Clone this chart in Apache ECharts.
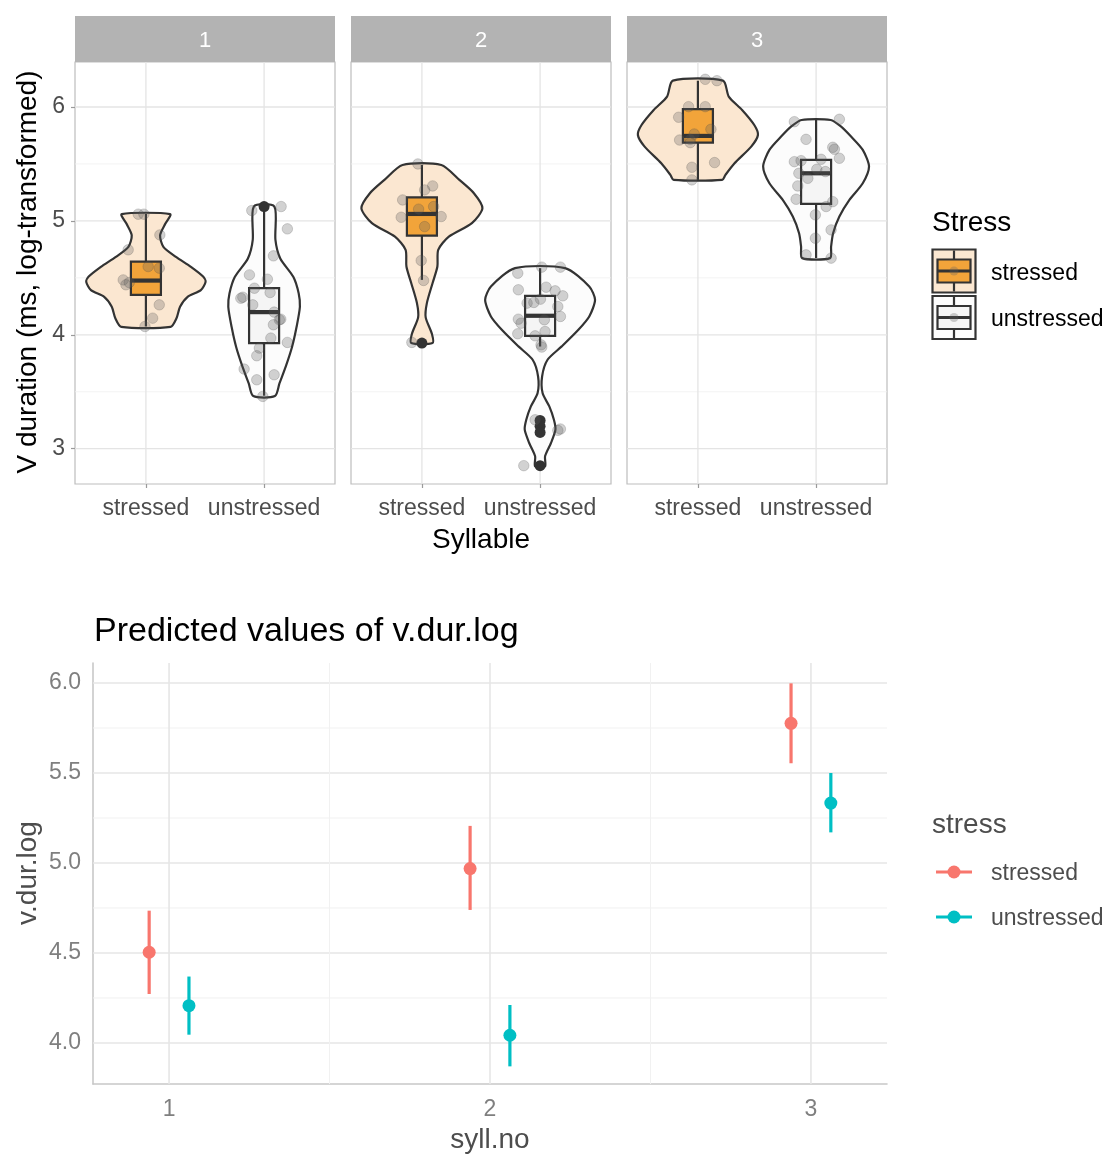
<!DOCTYPE html>
<html>
<head>
<meta charset="utf-8">
<title>V duration by syllable and stress</title>
<script src="https://cdn.jsdelivr.net/npm/echarts@6/dist/echarts.min.js"></script>
<style>
  html, body { margin: 0; padding: 0; background: #fff; }
  #chart { width: 1106px; height: 1154px; }
</style>
</head>
<body>
<div id="chart"></div>
<script>
const FONT = '"Liberation Sans", Arial, sans-serif'

// ---- top: vowel duration per syllable (facets) and stress ----
const facetLabels = ['1', '2', '3']
const stressLevels = ['stressed', 'unstressed']
const yBreaksTop = [3, 4, 5, 6]
const yMinorTop = [3.5, 4.5, 5.5]

// violin outlines, top to bottom: [value, half width in x units]
const violinStressed = [
  [[5.059, 0.205], [4.977, 0.165], [4.874, 0.12], [4.772, 0.148], [4.684, 0.254], [4.596, 0.381], [4.509, 0.486], [4.465, 0.505], [4.392, 0.465], [4.333, 0.353], [4.246, 0.289], [4.143, 0.258], [4.07, 0.209]],
  [[5.491, 0.164], [5.36, 0.317], [5.243, 0.44], [5.111, 0.512], [4.98, 0.423], [4.862, 0.228], [4.746, 0.138], [4.6, 0.131], [4.453, 0.09], [4.278, 0.042], [4.153, 0.032], [4.007, 0.085], [3.927, 0.09]],
  [[6.231, 0.212], [6.091, 0.261], [5.974, 0.374], [5.842, 0.477], [5.754, 0.508], [5.652, 0.451], [5.506, 0.31], [5.404, 0.233], [5.36, 0.205]]
]
const violinUnstressed = [
  [[5.126, 0.087], [4.833, 0.096], [4.67, 0.137], [4.509, 0.247], [4.363, 0.293], [4.246, 0.303], [4.07, 0.275], [3.895, 0.237], [3.72, 0.183], [3.573, 0.13], [3.462, 0.092]],
  [[4.585, 0.212], [4.424, 0.416], [4.307, 0.465], [4.161, 0.416], [4.044, 0.324], [3.898, 0.183], [3.781, 0.063], [3.634, 0.017], [3.488, 0.021], [3.371, 0.078], [3.254, 0.117], [3.167, 0.13], [3.05, 0.092], [2.933, 0.042], [2.845, 0.042]],
  [[5.886, 0.123], [5.827, 0.212], [5.74, 0.296], [5.623, 0.395], [5.477, 0.448], [5.33, 0.395], [5.184, 0.282], [5.038, 0.197], [4.892, 0.144], [4.775, 0.127], [4.673, 0.118]]
]

// boxplots: [lower whisker, Q1, median, Q3, upper whisker]
const boxStressed = [
  [4.073, 4.351, 4.476, 4.643, 5.061],
  [4.482, 4.871, 5.061, 5.206, 5.491],
  [5.36, 5.687, 5.746, 5.982, 6.231]
]
const boxUnstressed = [
  [3.465, 3.927, 4.199, 4.409, 5.09],
  [3.897, 3.991, 4.167, 4.342, 4.585],
  [4.673, 5.149, 5.418, 5.535, 5.886]
]
const outliersStressed = [[], [3.927], []]
const outliersUnstressed = [[5.126], [3.248, 3.196, 3.143, 2.851], []]

// raw observations (jittered): values and horizontal jitter in x units
const jitterValStressed = [
  [5.059, 5.059, 4.746, 4.599, 4.585, 4.482, 4.439, 4.459, 4.263, 4.146, 4.073, 4.877],
  [5.5, 5.307, 5.272, 5.184, 5.103, 5.126, 5.032, 5.038, 4.95, 4.652, 4.477, 3.933],
  [6.243, 6.231, 6.003, 6.003, 5.91, 5.804, 5.763, 5.716, 5.71, 5.687, 5.512, 5.471, 5.36]
]
const jitterOffStressed = [
  [-0.065, -0.017, -0.15, 0.019, 0.113, -0.192, -0.169, -0.141, 0.113, 0.057, -0.008, 0.118],
  [-0.034, 0.091, 0.023, -0.163, -0.028, 0.099, -0.175, 0.163, 0.023, -0.006, 0.014, -0.085],
  [0.062, 0.161, -0.079, 0.062, -0.163, 0.11, -0.031, -0.065, -0.155, -0.065, 0.141, -0.051, -0.051]
]
const jitterValUnstressed = [
  [5.091, 5.126, 4.93, 4.693, 4.526, 4.488, 4.409, 4.371, 4.33, 4.321, 4.263, 4.199, 4.137, 4.088, 4.132, 3.971, 3.933, 3.883, 3.816, 3.699, 3.649, 3.605, 3.459],
  [4.541, 4.594, 4.594, 4.395, 4.418, 4.386, 4.342, 4.313, 4.278, 4.284, 4.248, 4.161, 4.137, 4.102, 4.132, 4.009, 4.029, 3.991, 3.912, 3.892, 3.254, 3.173, 3.161, 2.851],
  [5.871, 5.892, 5.716, 5.646, 5.629, 5.55, 5.52, 5.529, 5.541, 5.418, 5.453, 5.433, 5.374, 5.307, 5.19, 5.169, 5.126, 5.053, 4.921, 4.848, 4.702, 4.673]
]
const jitterOffUnstressed = [
  [-0.104, 0.144, 0.197, 0.079, -0.124, 0.028, -0.082, 0.051, -0.18, -0.197, -0.096, 0.085, 0.141, 0.079, 0.129, 0.057, 0.197, -0.04, -0.062, -0.169, 0.085, -0.062, -0.011],
  [-0.189, 0.014, 0.172, -0.184, 0.051, 0.127, 0.192, 0.003, -0.11, -0.053, 0.15, 0.172, -0.184, -0.161, 0.036, -0.189, 0.042, -0.042, 0.008, 0.014, -0.042, 0.172, 0.15, -0.138],
  [-0.184, 0.197, -0.085, 0.141, 0.155, 0.197, -0.184, -0.127, 0.042, -0.146, 0.006, 0.079, -0.07, -0.155, -0.169, 0.141, 0.085, -0.006, 0.127, -0.006, -0.085, 0.127]
]

// ---- bottom: predicted values of v.dur.log ----
const syllNo = [1, 2, 3]
const fitStressed = [4.504, 4.969, 5.776]
const lowStressed = [4.272, 4.739, 5.554]
const highStressed = [4.735, 5.206, 5.998]
const fitUnstressed = [4.207, 4.043, 5.333]
const lowUnstressed = [4.046, 3.87, 5.17]
const highUnstressed = [4.369, 4.211, 5.5]
const yBreaksBottom = [4.0, 4.5, 5.0, 5.5, 6.0]
const yMinorBottom = [4.25, 4.75, 5.25, 5.75]
const xMinorBottom = [1.5, 2.5]

// styles
const VIOLIN_FILL = ['#FBE7D1', '#FCFCFC']
const BOX_FILL = ['#F2A43A', '#F5F5F5']
const INK = '#333333'
const LW = 2.2
const PRED_COLORS = ['#F8766D', '#00BFC4']
const BOX_HALF = 0.127
const DODGE = 0.062
const TOP_X = [0.4, 2.6]
const TOP_Y = [2.69, 6.395]
const BOT_X = [0.763, 3.237]
const BOT_Y = [3.772, 6.111]
const panelLeft = [75, 351, 627]

const seg = (a, b, stroke, lineWidth) => ({
  type: 'line',
  shape: { x1: a[0], y1: a[1], x2: b[0], y2: b[1] },
  style: { stroke, lineWidth }
})

function gridLines(gi, xr, yr, hMajor, hMinor, vMajor, vMinor, majorColor, minorColor, majorW, minorW) {
  const data = []
  hMajor.forEach(v => data.push([v, 0]))
  hMinor.forEach(v => data.push([v, 1]))
  vMajor.forEach(v => data.push([v, 2]))
  vMinor.forEach(v => data.push([v, 3]))
  return {
    type: 'custom', xAxisIndex: gi, yAxisIndex: gi, silent: true, z: 1,
    data,
    renderItem: (params, api) => {
      const v = api.value(0)
      const kind = api.value(1)
      const horiz = kind < 2
      const p1 = horiz ? api.coord([xr[0], v]) : api.coord([v, yr[0]])
      const p2 = horiz ? api.coord([xr[1], v]) : api.coord([v, yr[1]])
      const major = kind % 2 === 0
      return seg(p1, p2, major ? majorColor : minorColor, major ? majorW : minorW)
    }
  }
}

function violinSeries(f) {
  return {
    type: 'custom', xAxisIndex: f, yAxisIndex: f, silent: true, z: 2,
    data: stressLevels.map((s, i) => [i + 1, i]),
    renderItem: (params, api) => {
      const x = api.value(0)
      const s = api.value(1)
      const prof = (s === 0 ? violinStressed : violinUnstressed)[f]
      const right = prof.map(([v, w]) => api.coord([x + w, v]))
      const left = prof.slice().reverse().map(([v, w]) => api.coord([x - w, v]))
      return {
        type: 'polygon',
        shape: { points: right.concat(left), smooth: 0.25 },
        style: { fill: VIOLIN_FILL[s], stroke: INK, lineWidth: LW, lineJoin: 'round' }
      }
    }
  }
}

function boxSeries(f) {
  return {
    type: 'custom', xAxisIndex: f, yAxisIndex: f, silent: true, z: 3,
    data: stressLevels.map((s, i) => [i + 1, i]),
    renderItem: (params, api) => {
      const x = api.value(0)
      const s = api.value(1)
      const [lo, q1, med, q3, hi] = (s === 0 ? boxStressed : boxUnstressed)[f]
      const c = (dx, v) => api.coord([x + dx, v])
      const tl = c(-BOX_HALF, q3)
      const br = c(BOX_HALF, q1)
      return {
        type: 'group',
        children: [
          seg(c(0, hi), c(0, q3), INK, LW),
          seg(c(0, q1), c(0, lo), INK, LW),
          {
            type: 'rect',
            shape: { x: tl[0], y: tl[1], width: br[0] - tl[0], height: br[1] - tl[1] },
            style: { fill: BOX_FILL[s], stroke: INK, lineWidth: LW }
          },
          seg(c(-BOX_HALF, med), c(BOX_HALF, med), INK, 4.2)
        ]
      }
    }
  }
}

function outlierSeries(f) {
  const data = []
  outliersStressed[f].forEach(v => data.push([1, v]))
  outliersUnstressed[f].forEach(v => data.push([2, v]))
  return {
    type: 'scatter', xAxisIndex: f, yAxisIndex: f, silent: true, z: 4,
    symbolSize: 11, itemStyle: { color: INK, opacity: 1 },
    data
  }
}

function jitterSeries(f) {
  const data = []
  jitterValStressed[f].forEach((v, i) => data.push([1 + jitterOffStressed[f][i], v]))
  jitterValUnstressed[f].forEach((v, i) => data.push([2 + jitterOffUnstressed[f][i], v]))
  return {
    type: 'scatter', xAxisIndex: f, yAxisIndex: f, silent: true, z: 5,
    symbolSize: 10.5,
    itemStyle: { color: 'rgba(95,95,95,0.28)', borderColor: 'rgba(70,70,70,0.22)', borderWidth: 1, opacity: 1 },
    data
  }
}

function pointRangeSeries(name, fit, low, high, color, dodge) {
  return {
    type: 'custom', name, xAxisIndex: 3, yAxisIndex: 3, silent: true, z: 3,
    data: syllNo.map((s, i) => [s, fit[i], low[i], high[i]]),
    renderItem: (params, api) => {
      const x = api.value(0) + dodge
      const top = api.coord([x, api.value(3)])
      const bot = api.coord([x, api.value(2)])
      const mid = api.coord([x, api.value(1)])
      return {
        type: 'group',
        children: [
          seg(top, bot, color, 3.2),
          { type: 'circle', shape: { cx: mid[0], cy: mid[1], r: 6.5 }, style: { fill: color } }
        ]
      }
    }
  }
}

const isWhole = v => Math.abs(v - Math.round(v)) < 1e-6

const grids = panelLeft.map(left => ({
  left, top: 62, width: 260, height: 422,
  show: true, borderColor: '#BDBDBD', borderWidth: 1.2, backgroundColor: '#fff',
  containLabel: false, outerBoundsMode: 'none'
}))
grids.push({ left: 93, top: 663, width: 794, height: 421, containLabel: false, outerBoundsMode: 'none' })

const xAxes = facetLabels.map((lab, f) => ({
  gridIndex: f, type: 'value', min: TOP_X[0], max: TOP_X[1],
  axisLine: { show: false },
  axisTick: { show: true, customValues: [1, 2], length: 4, lineStyle: { color: '#9A9A9A', width: 1.2 } },
  axisLabel: {
    customValues: [1, 2], margin: 13, fontSize: 23, color: '#4D4D4D', fontFamily: FONT,
    formatter: v => (isWhole(v) && stressLevels[Math.round(v) - 1]) || ''
  },
  splitLine: { show: false }
}))
xAxes.push({
  gridIndex: 3, type: 'value', min: BOT_X[0], max: BOT_X[1],
  axisLine: { show: true, onZero: false, lineStyle: { color: '#C8C8C8', width: 1.6 } },
  axisTick: { show: false },
  axisLabel: {
    customValues: syllNo, margin: 14, fontSize: 23, color: '#7F7F7F', fontFamily: FONT,
    formatter: v => (isWhole(v) ? String(Math.round(v)) : '')
  },
  splitLine: { show: false }
})

const yAxes = facetLabels.map((lab, f) => ({
  gridIndex: f, type: 'value', min: TOP_Y[0], max: TOP_Y[1],
  axisLine: { show: false },
  axisTick: { show: f === 0, customValues: yBreaksTop, length: 4, lineStyle: { color: '#9A9A9A', width: 1.2 } },
  axisLabel: {
    show: f === 0, customValues: yBreaksTop, margin: 10, fontSize: 23, color: '#4D4D4D', fontFamily: FONT,
    formatter: v => (isWhole(v) ? String(Math.round(v)) : '')
  },
  splitLine: { show: false }
}))
yAxes.push({
  gridIndex: 3, type: 'value', min: BOT_Y[0], max: BOT_Y[1],
  axisLine: { show: true, onZero: false, lineStyle: { color: '#C8C8C8', width: 1.6 } },
  axisTick: { show: false },
  axisLabel: {
    customValues: yBreaksBottom, margin: 12, fontSize: 23, color: '#7F7F7F', fontFamily: FONT,
    formatter: v => (Math.abs(v * 2 - Math.round(v * 2)) < 1e-6 ? v.toFixed(1) : '')
  },
  splitLine: { show: false }
})

const series = []
facetLabels.forEach((lab, f) => {
  series.push(gridLines(f, TOP_X, TOP_Y, yBreaksTop, yMinorTop, [1, 2], [], '#E4E4E4', '#F0F0F0', 1.3, 0.8))
  series.push(violinSeries(f), boxSeries(f), outlierSeries(f), jitterSeries(f))
})
series.push(gridLines(3, BOT_X, BOT_Y, yBreaksBottom, yMinorBottom, syllNo, xMinorBottom, '#E6E6E6', '#F1F1F1', 1.6, 1))
series.push(pointRangeSeries('stressed', fitStressed, lowStressed, highStressed, PRED_COLORS[0], -DODGE))
series.push(pointRangeSeries('unstressed', fitUnstressed, lowUnstressed, highUnstressed, PRED_COLORS[1], DODGE))

const txt = (text, x, y, size, fill, align, extra) => Object.assign({
  type: 'text', x, y, silent: true,
  style: { text, fontSize: size, fontFamily: FONT, fill, align: align || 'left', verticalAlign: 'middle' }
}, extra || {})

const graphic = []
// facet strips
facetLabels.forEach((lab, f) => {
  graphic.push({ type: 'rect', silent: true, shape: { x: panelLeft[f], y: 16, width: 260, height: 46 }, style: { fill: '#B3B3B3' } })
  graphic.push(txt(lab, panelLeft[f] + 130, 41, 22, '#FFFFFF', 'center'))
})
// axis titles
graphic.push(txt('V duration (ms, log-transformed)', 28, 272, 28, '#000', 'center', { rotation: Math.PI / 2 }))
graphic.push(txt('Syllable', 481, 540, 28, '#000', 'center'))
graphic.push(txt('Predicted values of v.dur.log', 94, 632, 34, '#000', 'left'))
graphic.push(txt('v.dur.log', 28, 873, 28, '#4D4D4D', 'center', { rotation: Math.PI / 2 }))
graphic.push(txt('syll.no', 490, 1140, 28, '#4D4D4D', 'center'))

// legend: Stress (violin + box keys)
graphic.push(txt('Stress', 932, 223, 28, '#000', 'left'))
stressLevels.forEach((lab, i) => {
  const top = 249.5 + i * 46.5
  graphic.push({
    type: 'group', silent: true,
    children: [
      { type: 'rect', shape: { x: 932.5, y: top, width: 43, height: 43 }, style: { fill: VIOLIN_FILL[i], stroke: INK, lineWidth: LW } },
      seg([954, top + 1], [954, top + 10], INK, LW),
      seg([954, top + 33], [954, top + 42], INK, LW),
      { type: 'rect', shape: { x: 937.5, y: top + 10, width: 33, height: 23 }, style: { fill: BOX_FILL[i], stroke: INK, lineWidth: LW } },
      seg([937.5, top + 21.5], [970.5, top + 21.5], INK, 3.2),
      { type: 'circle', shape: { cx: 954, cy: top + 21.5, r: 4.5 }, style: { fill: 'rgba(95,95,95,0.3)' } }
    ]
  })
  graphic.push(txt(lab, 991, top + 24, 23, '#000', 'left'))
})

// legend: stress (point-range keys)
graphic.push(txt('stress', 932, 825, 28, '#4D4D4D', 'left'))
stressLevels.forEach((lab, i) => {
  const y = 872 + i * 45
  graphic.push({
    type: 'group', silent: true,
    children: [
      seg([936, y], [972, y], PRED_COLORS[i], 3.2),
      { type: 'circle', shape: { cx: 954, cy: y, r: 6.5 }, style: { fill: PRED_COLORS[i] } }
    ]
  })
  graphic.push(txt(lab, 991, y + 1.5, 23, '#4D4D4D', 'left'))
})

const chart = echarts.init(document.getElementById('chart'), null, { renderer: 'canvas' })
chart.setOption({
  animation: false,
  backgroundColor: '#ffffff',
  textStyle: { fontFamily: FONT },
  grid: grids,
  xAxis: xAxes,
  yAxis: yAxes,
  series,
  graphic
})
window.addEventListener('resize', () => chart.resize())
</script>
</body>
</html>
